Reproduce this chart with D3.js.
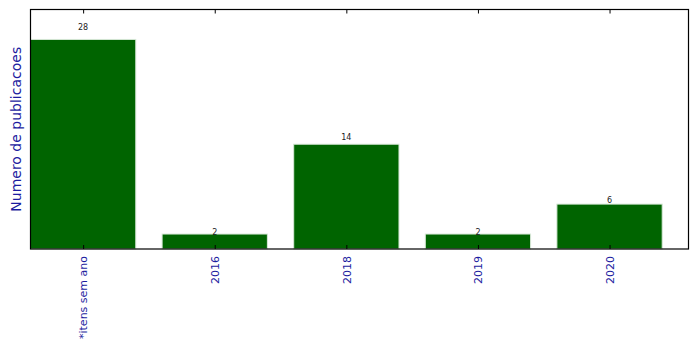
<!DOCTYPE html>
<html>
<head>
<meta charset="utf-8">
<script src="https://cdn.jsdelivr.net/npm/d3@7"></script>
<style>
  body { margin: 0; background: #fff; }
  svg { display: block; font-family: "DejaVu Sans", sans-serif; }
</style>
</head>
<body>
<div id="chart"></div>
<script>
// categories and counts
const categories = ["*itens sem ano", "2016", "2018", "2019", "2020"];
const counts = [28, 2, 14, 2, 6];
const yMax = 32;

const width = 699, height = 349;
const margin = { top: 9.5, right: 10.5, bottom: 100, left: 30.5 };
const innerW = width - margin.left - margin.right;
const innerH = height - margin.top - margin.bottom;

const svg = d3.select("#chart").append("svg")
    .attr("width", width)
    .attr("height", height);

const g = svg.append("g")
    .attr("transform", `translate(${margin.left},${margin.top})`);

// linear x like matplotlib: bar i centered at i, xlim = [-0.4, 4.6]
const x = d3.scaleLinear().domain([-0.4, categories.length - 0.4]).range([0, innerW]);
const y = d3.scaleLinear().domain([0, yMax]).range([innerH, 0]);
const barW = x(0.8) - x(0);

// bars
g.selectAll("rect.bar")
    .data(counts)
    .enter()
    .append("rect")
    .attr("class", "bar")
    .attr("x", (d, i) => x(i - 0.4))
    .attr("y", d => y(d))
    .attr("width", barW)
    .attr("height", d => innerH - y(d))
    .attr("fill", "#006400")
    .attr("stroke", "#d8e8d8")
    .attr("stroke-width", 1);

// value labels
g.selectAll("text.val")
    .data(counts)
    .enter()
    .append("text")
    .attr("class", "val")
    .attr("x", (d, i) => x(i))
    .attr("y", d => y(d * 1.05) + 1.5)
    .attr("text-anchor", "middle")
    .attr("font-size", "8px")
    .attr("fill", "#222")
    .text(d => d);

// frame
g.append("rect")
    .attr("width", innerW)
    .attr("height", innerH)
    .attr("fill", "none")
    .attr("stroke", "#000")
    .attr("stroke-width", 1.2);

// inward ticks on bottom and top
const idx = d3.range(categories.length);
const bottomAxis = d3.axisBottom(x).tickValues(idx).tickSize(-4).tickFormat(i => categories[i]).tickPadding(8);
const topAxis = d3.axisTop(x).tickValues(idx).tickSize(-4).tickFormat("");

const bx = g.append("g").attr("transform", `translate(0,${innerH})`).call(bottomAxis);
bx.select(".domain").remove();
bx.selectAll(".tick line").attr("stroke", "#000");
bx.selectAll(".tick text")
    .attr("transform", "rotate(-90)")
    .attr("x", -7)
    .attr("y", 0)
    .attr("dy", "0.35em")
    .attr("text-anchor", "end")
    .attr("font-size", "11px")
    .attr("font-family", "DejaVu Sans, sans-serif")
    .attr("fill", "#1c1ca0");

const tx = g.append("g").call(topAxis);
tx.select(".domain").remove();
tx.selectAll(".tick line").attr("stroke", "#000");

// y label
svg.append("text")
    .attr("transform", `translate(21,${margin.top + innerH / 2}) rotate(-90)`)
    .attr("text-anchor", "middle")
    .attr("font-size", "14px")
    .attr("fill", "#1c1ca0")
    .text("Numero de publicacoes");
</script>
</body>
</html>
